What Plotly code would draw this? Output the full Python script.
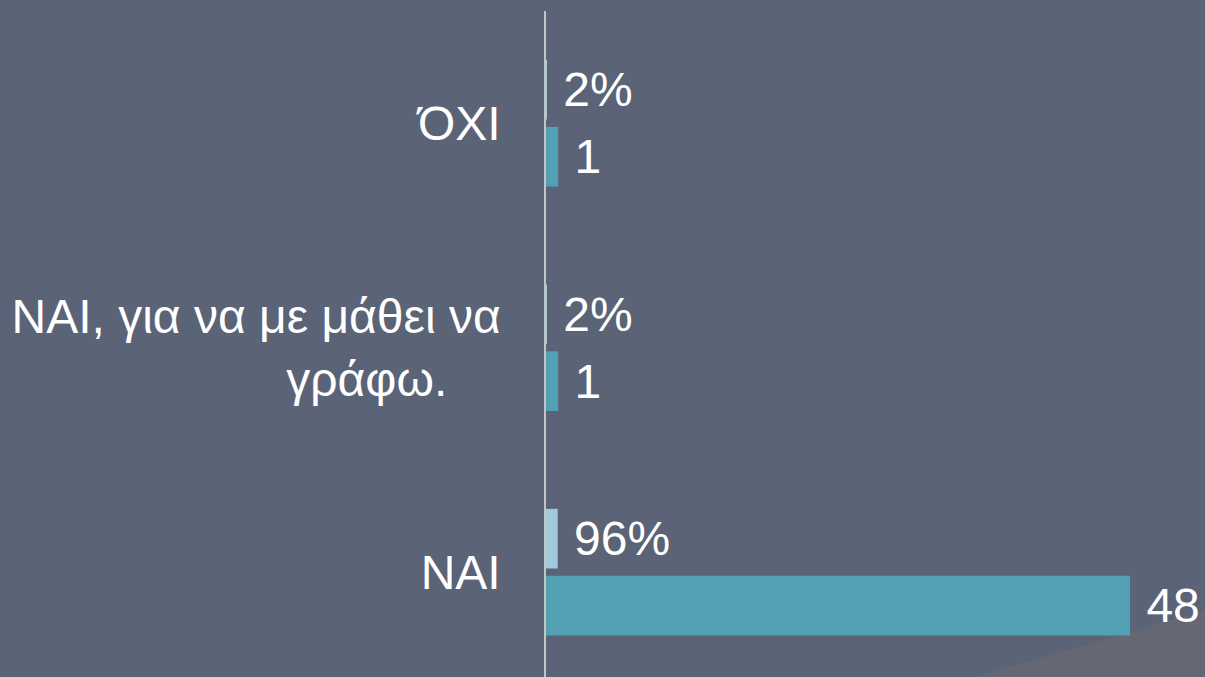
import plotly.graph_objects as go

# answers, bottom to top as plotly draws categories
categories = ["ΝΑΙ", "ΝΑΙ, για να με μάθει να<br>γράφω.\u00a0\u00a0\u00a0\u00a0", "ΌΧΙ"]
counts = [48, 1, 1]
shares = [0.96, 0.02, 0.02]

bg = '#5b6377'
font_family = 'Liberation Sans, Arial, sans-serif'

fig = go.Figure()
fig.add_trace(go.Bar(
    y=categories, x=counts, orientation='h', name='Πλήθος',
    marker=dict(color='#52a0b4', line=dict(width=0)),
    texttemplate='\u00a0%{x}', textposition='outside', constraintext='none',
    textfont=dict(color='white', size=48, family=font_family),
    cliponaxis=False
))
fig.add_trace(go.Bar(
    y=categories, x=shares, orientation='h', name='Ποσοστό',
    marker=dict(color='#9fcbdc', line=dict(width=0)),
    texttemplate='\u00a0%{x:.0%}', textposition='outside', constraintext='none',
    textfont=dict(color='white', size=48, family=font_family),
    cliponaxis=False
))

# decorative slide corner
fig.add_shape(type='path', path='M 0.651,0 L 1,0.1 L 1,0 Z',
              xref='paper', yref='paper', fillcolor='#656873',
              line=dict(width=0), layer='below')

fig.update_layout(
    width=1205, height=677,
    barmode='group', bargap=0.403, bargroupgap=0.11,
    showlegend=False, hovermode=False,
    plot_bgcolor=bg, paper_bgcolor=bg,
    margin=dict(l=546, r=0, t=11, b=0),
    font=dict(family=font_family, color='white', size=48),
    xaxis=dict(range=[0, 54.16], showgrid=False, zeroline=False,
               showticklabels=False, showline=False),
    yaxis=dict(range=[-0.467, 2.5], showgrid=False, zeroline=False,
               showline=True, linecolor='#c4c4c4', linewidth=1.5,
               ticks='', ticklabelstandoff=34,
               tickfont=dict(size=48, color='white', family=font_family))
)

fig.write_html("out.html", config={'displayModeBar': False},
               post_script="document.body.style.margin='0';")
